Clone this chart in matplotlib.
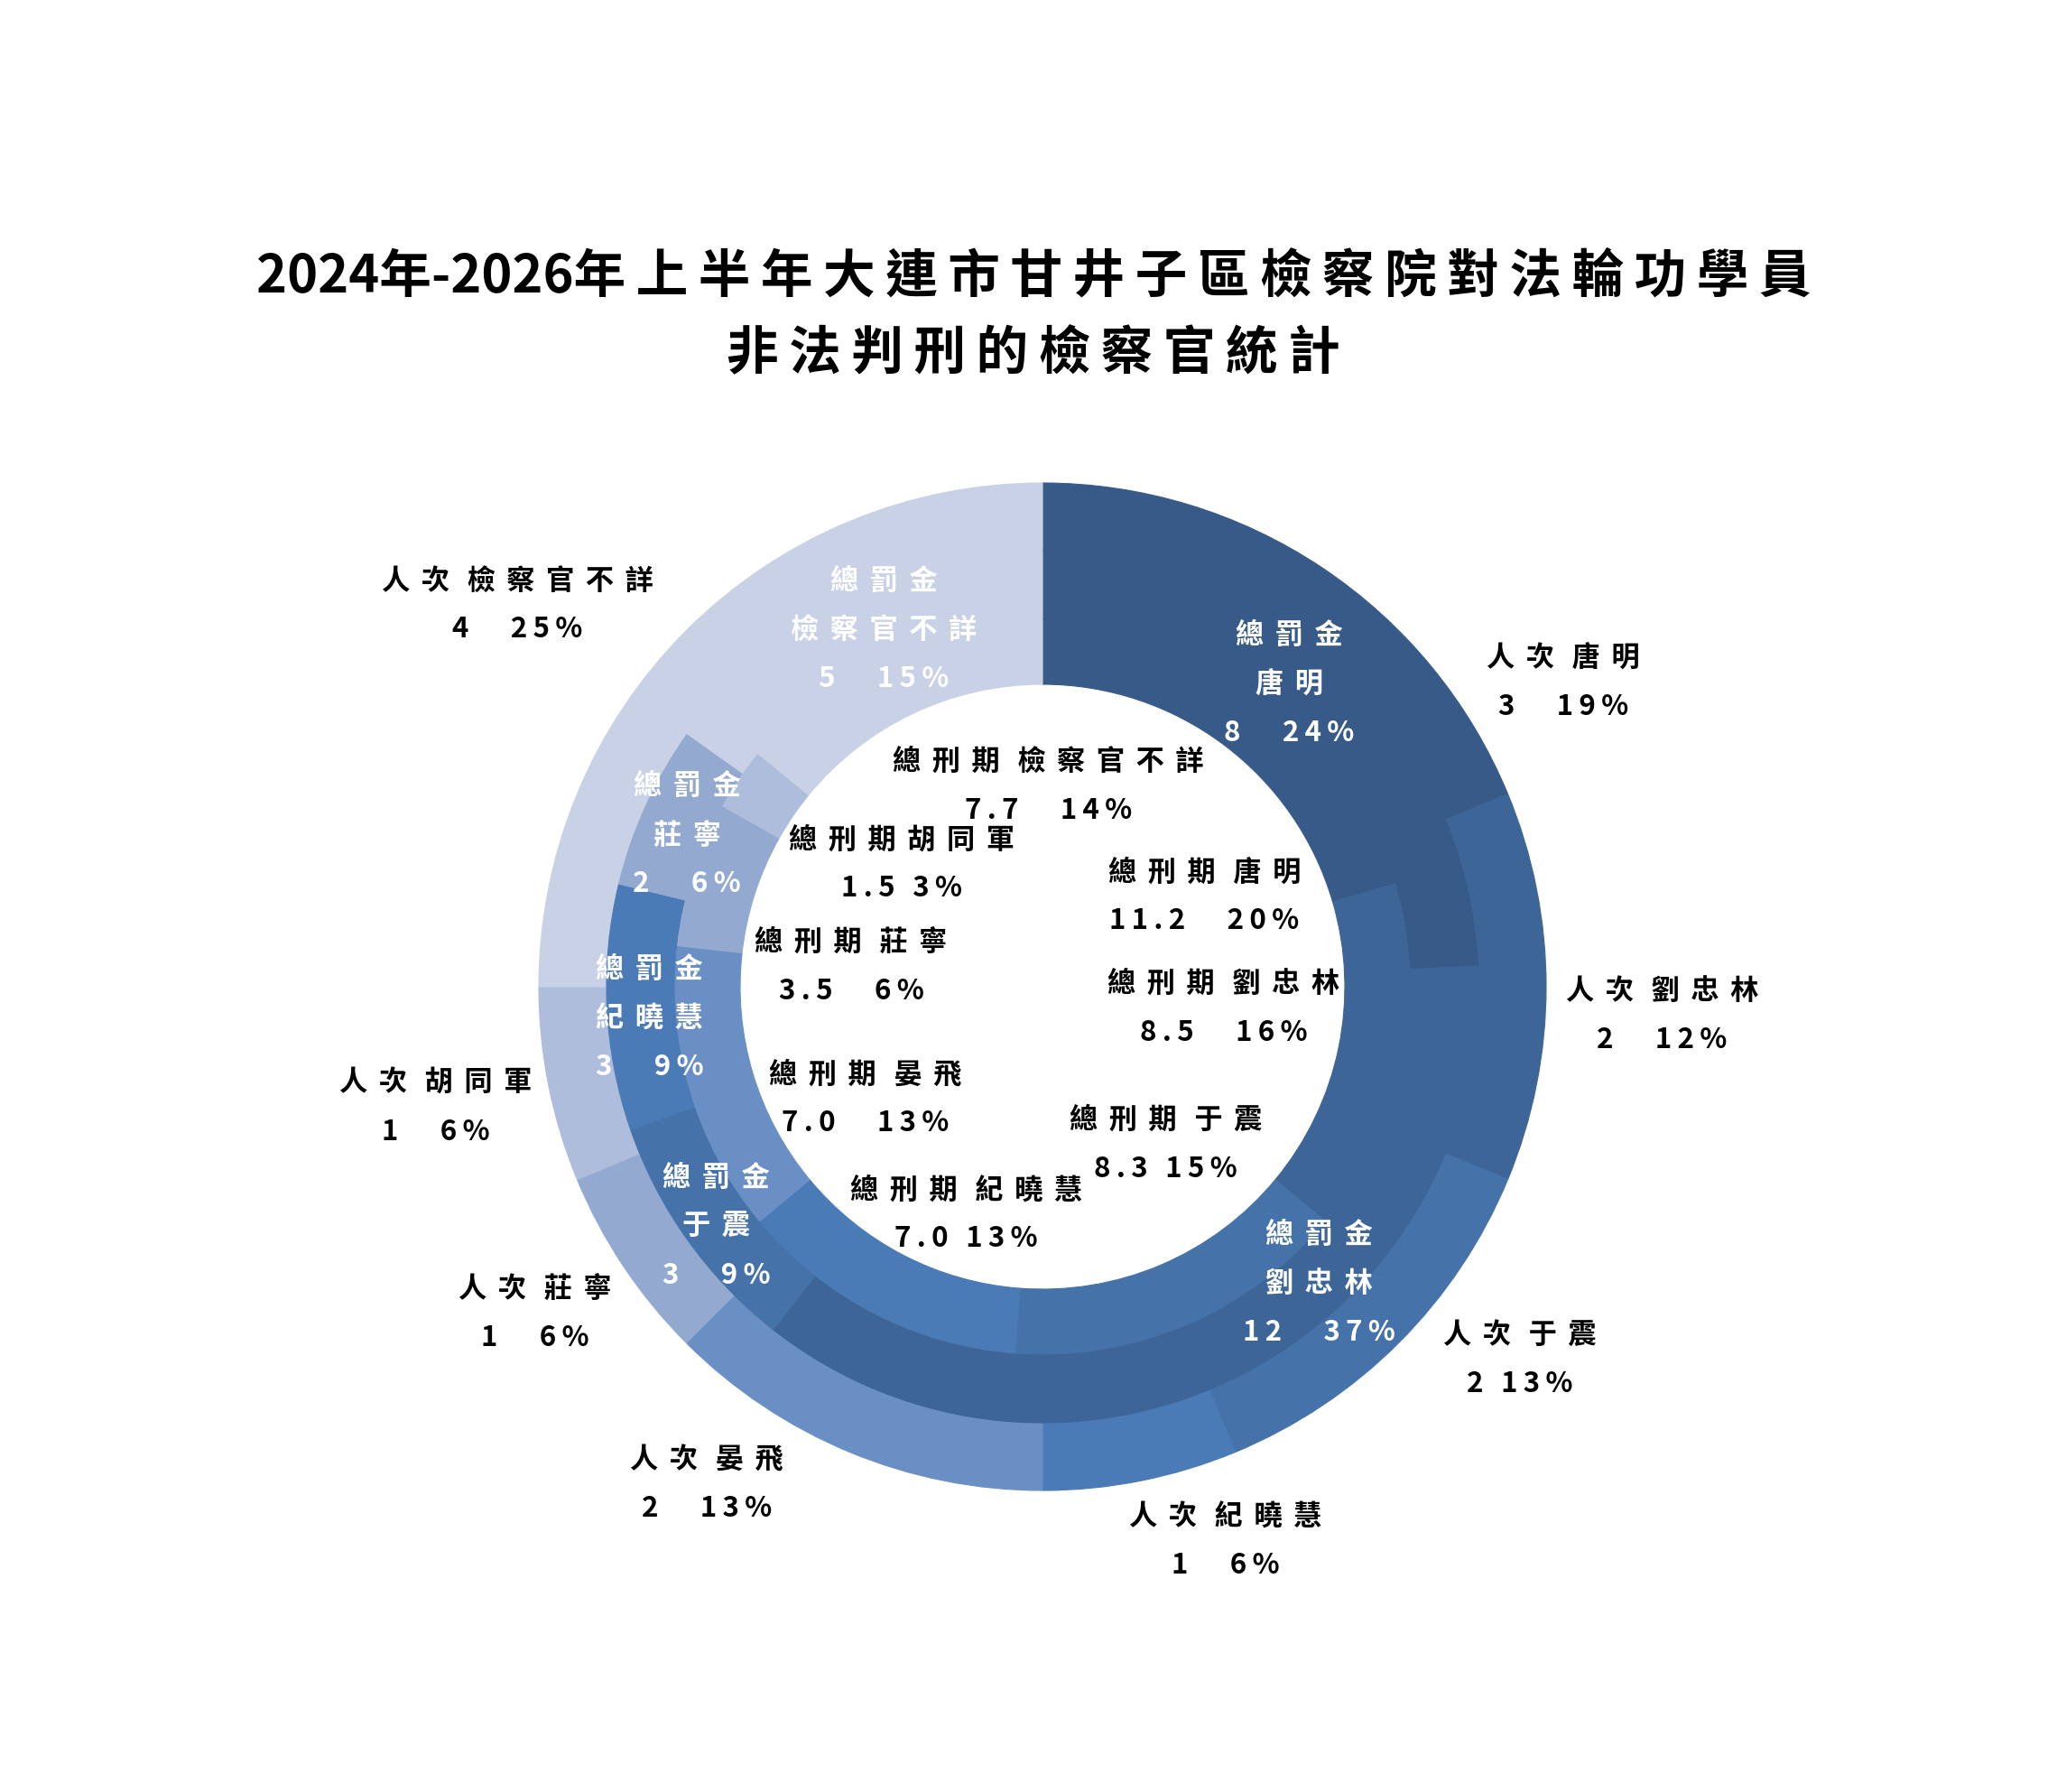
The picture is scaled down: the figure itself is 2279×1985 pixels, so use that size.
import numpy as np
import matplotlib
matplotlib.use("Agg")
import matplotlib.pyplot as plt

# values, clockwise from 12 o'clock
names = ["唐明", "劉忠林", "于震", "紀曉慧", "晏飛", "莊寧", "胡同軍", "檢察官不詳"]
count = [3, 2, 2, 1, 2, 1, 1, 4]                      # 人次 (outer ring)
count_pct = [19, 12, 13, 6, 13, 6, 6, 25]
fine = [8, 12, 3, 3, 0, 2, 0, 5]                      # 總罰金 (middle ring)
fine_pct = [24, 37, 9, 9, 0, 6, 0, 15]
term = [11.2, 8.5, 8.3, 7.0, 7.0, 3.5, 1.5, 7.7]      # 總刑期 (inner ring)
term_pct = [20, 16, 15, 13, 13, 6, 3, 14]

title_lines = ["2024年-2026年上半年大連市甘井子區檢察院對法輪功學員",
               "非法判刑的檢察官統計"]

colors = ["#385a89", "#3e6598", "#4573a9", "#4a7bb6",
          "#6a8fc4", "#93a9d0", "#adbddb", "#c8d1e5"]

FONT = ["Noto Sans CJK TC", "DejaVu Sans"]
W, H = 2279, 1985
cx, cy = 1155, H - 1093
r_hole, r_in, r_mid, r_out = 335, 407, 483, 558

# label placement: (angle nudge from wedge middle in deg, radius in px)
count_lab = [(26, 668), (2.7, 687), (-7, 671), (-7, 647),
             (11.5, 665), (1, 669), (0, 685), (-9, 719)]
fine_lab = [(-4.4, 432), (-15.7, 450), (-0.9, 449), (-1.9, 437),
            None, (-1.5, 428), None, (3.3, 432)]
term_lab = [(24.1, 205), (-5, 202), (-15, 222), (-8.8, 266),
            (-15.8, 232), (-11.9, 213), (6.6, 207), (27, 222)]
count_gap = ["   ", "   ", " ", "   ", "   ", "   ", "   ", "   "]
term_gap = ["   ", "   ", " ", " ", "   ", "   ", " ", "   "]
LINE = 54


def is_cjk(ch):
    return ord(ch) > 0x2E80


def spaced(s, cjk_gap="\u2009\u2009", other_gap="\u2009"):
    # fake letter spacing with thin spaces (DejaVu fallback)
    out = s[0]
    for a, b in zip(s, s[1:]):
        out += cjk_gap if (is_cjk(a) and is_cjk(b)) else other_gap
        out += b
    return out


def mid_angles(vals):
    v = np.asarray(vals, dtype=float)
    c = np.cumsum(v) - v / 2
    return c / v.sum() * 360.0


def put(ax, theta, r, lines, color):
    t = np.deg2rad(theta)
    x = cx + r * np.sin(t)
    y = cy + r * np.cos(t)
    n = len(lines)
    for i, s in enumerate(lines):
        dy = ((n - 1) / 2 - i) * LINE
        ax.text(x, y + dy, spaced(s), ha="center", va="center",
                fontsize=22.5, fontweight="heavy", color=color, family=FONT)


fig = plt.figure(figsize=(W / 100, H / 100), dpi=100)
ax = fig.add_axes([0, 0, 1, 1])

# each ring reaches 3px under the next one so no seams show
rings = [(count, r_out, r_mid - 3), (fine, r_mid, r_in - 3), (term, r_in, r_hole)]
for vals, r1, r0 in rings:
    wedges, _ = ax.pie(vals, radius=r1, center=(cx, cy), startangle=90,
                       counterclock=False, colors=colors,
                       wedgeprops=dict(width=r1 - r0, linewidth=0.8))
    for w in wedges:
        w.set_edgecolor(w.get_facecolor())

ax.set_xlim(0, W)
ax.set_ylim(0, H)
ax.set_aspect("equal")
ax.axis("off")

# outer labels: 人次
for i, a in enumerate(mid_angles(count)):
    d, r = count_lab[i]
    put(ax, a + d, r, ["人次 " + names[i], f"{count[i]}{count_gap[i]}{count_pct[i]}%"], "black")

# middle labels: 總罰金
for i, a in enumerate(mid_angles(fine)):
    if fine[i] == 0:
        continue
    d, r = fine_lab[i]
    put(ax, a + d, r, ["總罰金", names[i], f"{fine[i]}   {fine_pct[i]}%"], "white")

# inner labels: 總刑期
for i, a in enumerate(mid_angles(term)):
    d, r = term_lab[i]
    head = "總刑期" + ("" if names[i] == "胡同軍" else " ") + names[i]
    put(ax, a + d, r, [head, f"{term[i]:.1f}{term_gap[i]}{term_pct[i]}%"], "black")

# title
for s, y in zip(title_lines, [H - 307, H - 392]):
    ax.text(1145, y, spaced(s, cjk_gap="\u2009", other_gap=""), ha="center",
            va="center", fontsize=41.5, fontweight="heavy", color="black",
            family=FONT)

fig.savefig("out.png", dpi=100, facecolor="white")
